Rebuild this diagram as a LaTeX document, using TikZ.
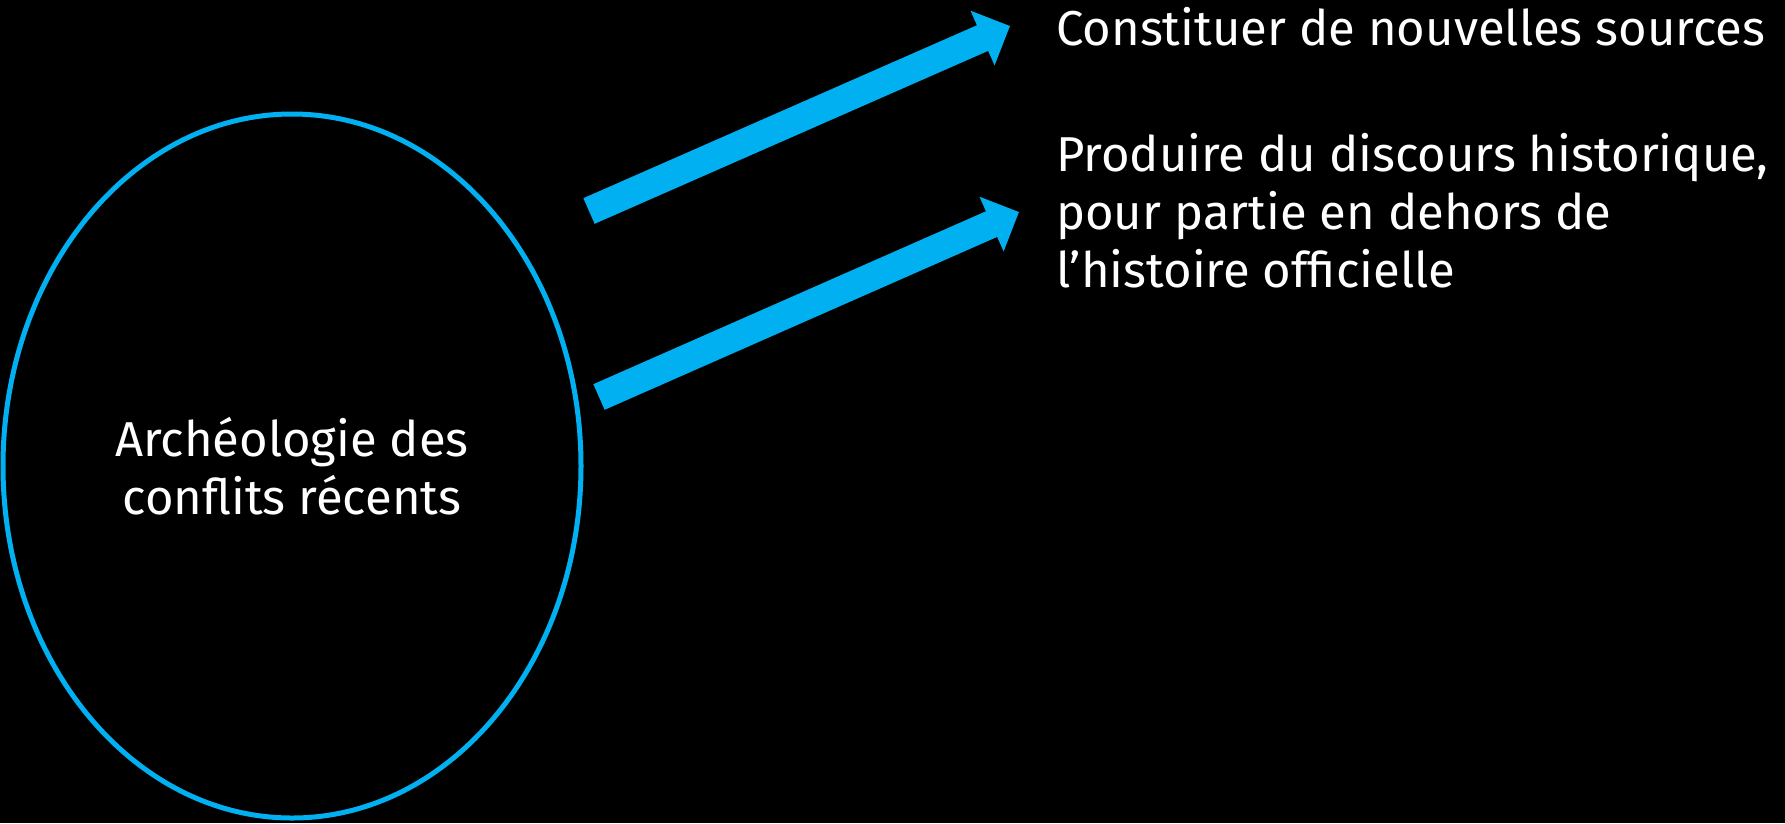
\documentclass[tikz,border=0pt]{standalone}
\usepackage{fontspec}
\setmainfont{Fira Sans}
\usetikzlibrary{arrows.meta, shapes.geometric}
\definecolor{ringcol}{RGB}{0,176,240}
\colorlet{textcol}{white}
\def\shaftw{28pt}

\begin{document}
\begin{tikzpicture}[x=1pt, y=-1pt,
  label text/.style={text=textcol, font=\fontsize{49}{58}\selectfont, inner sep=0pt},
  fat arrow/.style={line width=\shaftw, ringcol, -{Triangle[length=30pt, width=58pt]}}]
  \fill[black] (0,0) rectangle (1785,823);
  \useasboundingbox (0,0) rectangle (1785,823);

  \node[ellipse, draw=ringcol, line width=5pt, minimum width=578pt, minimum height=704pt,
        inner sep=0pt, label text, align=center] (arch) at (292,466)
        {Archéologie des\\conflits récents};

  \node[label text, anchor=base west] (sources) at (1056,45) {Constituer de nouvelles sources};
  \node[label text, anchor=north west, align=left] (discours) at (1056,133)
        {Produire du discours historique,\\pour partie en dehors de\\l’histoire officielle};

  % arrows from the ring towards the two texts
  \coordinate (tail1) at (589,211);
  \coordinate (tip1) at (1010,26);
  \coordinate (tail2) at (599,397);
  \coordinate (tip2) at (1019,212);
  \draw[fat arrow] (tail1) -- (tip1);
  \draw[fat arrow] (tail2) -- (tip2);
\end{tikzpicture}
\end{document}
